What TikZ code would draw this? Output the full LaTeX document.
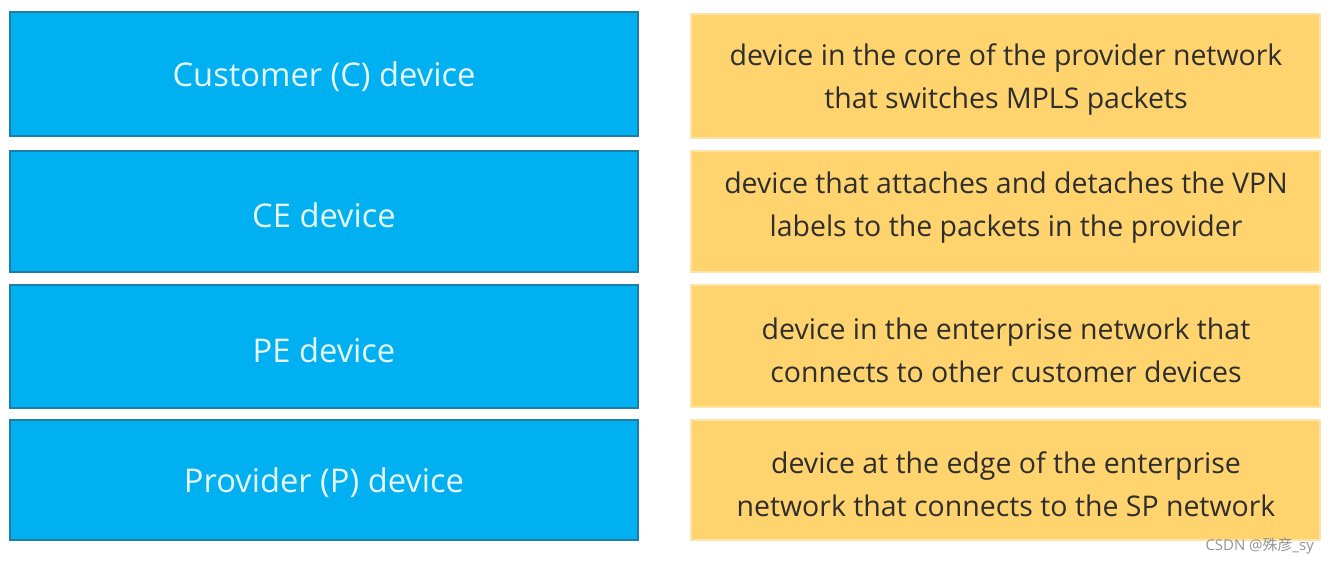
\documentclass[tikz,border=0pt]{standalone}
\usepackage{fontspec}
\setmainfont{Open Sans}
\newfontfamily\cjkfont{Noto Sans CJK SC}
\usepackage{xcolor}
\definecolor{roleblue}{HTML}{00B0F0}
\definecolor{roleblueedge}{HTML}{1C7FA6}
\definecolor{rolegold}{HTML}{FFD36E}
\definecolor{rolegoldedge}{HTML}{FCE3A8}
\definecolor{roletext}{HTML}{2E2E2E}

\begin{document}
\begin{tikzpicture}[x=0.02cm,y=-0.02cm,
  rolebox/.style={draw=roleblueedge, line width=0.8pt, fill=roleblue, minimum width=12.56cm,
    text=white!90!cyan},
  roletxt/.style={text=white!90!cyan, font=\fontsize{18.6}{22}\selectfont},
  descbox/.style={draw=rolegoldedge, line width=0.8pt, fill=rolegold, minimum width=12.58cm},
  desctext/.style={text=roletext, align=center, font=\fontsize{16.2}{24.5}\selectfont}]
\useasboundingbox (0,0) rectangle (1332,562);

\node[rolebox, minimum height=2.48cm] (cust) at (324,74) {};
\node[rolebox, minimum height=2.42cm] (ce) at (324,211.5) {};
\node[rolebox, minimum height=2.46cm] (pe) at (324,346.5) {};
\node[rolebox, minimum height=2.40cm] (prov) at (324,480) {};

\node[roletxt] (custtext) at (324,77) {Customer (C) device};
\node[roletxt] (cetext) at (324,215) {CE device};
\node[roletxt] (petext) at (324,350) {PE device};
\node[roletxt] (provtext) at (324,483) {Provider (P) device};

\node[descbox, minimum height=2.48cm] (core) at (1005.5,76) {};
\node[descbox, minimum height=2.42cm] (label) at (1005.5,211.5) {};
\node[descbox, minimum height=2.44cm] (ent) at (1005.5,346) {};
\node[descbox, minimum height=2.40cm] (edge) at (1005.5,480) {};

\node[desctext] (coretext) at (1006,80) {device in the core of the provider network\\that switches MPLS packets};
\node[desctext] (labeltext) at (1006,208) {device that attaches and detaches the VPN\\labels to the packets in the provider};
\node[desctext] (enttext) at (1006,350) {device in the enterprise network that\\connects to other customer devices};
\node[desctext] (edgetext) at (1006,484) {device at the edge of the enterprise\\network that connects to the SP network};

\node[text=gray!85, font=\fontsize{8.5}{10}\selectfont, anchor=east] (mark) at (1320,546) {CSDN @{\cjkfont 殊彦}\_sy};
\end{tikzpicture}
\end{document}
